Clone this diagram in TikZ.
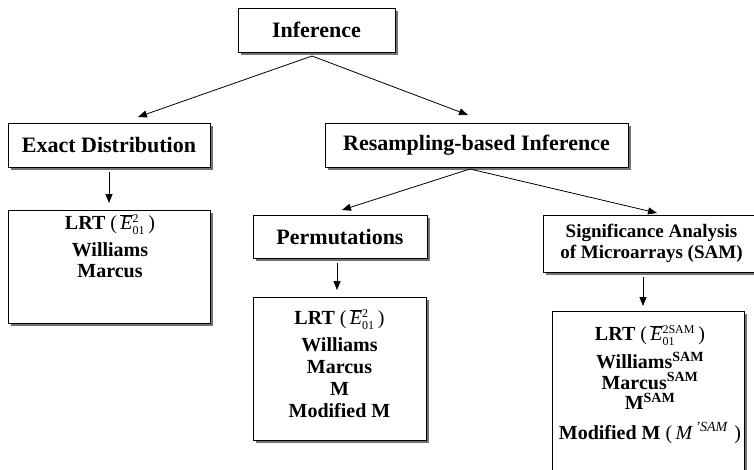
\documentclass[tikz,border=0pt]{standalone}
\usepackage{fontspec}
\setmainfont{Liberation Serif}
\usetikzlibrary{arrows.meta}
\tikzset{
  box/.style={draw=black, line width=0.8pt, fill=white, inner sep=0pt, align=center,
    preaction={fill=black!55, transform canvas={shift={(3pt,-3pt)}}}},
  head/.style={box, font=\fontsize{22}{25}\selectfont\bfseries},
  sam/.style={box, font=\fontsize{19}{20.5}\selectfont\bfseries},
  listbox/.style={box},
  txt/.style={inner sep=0pt, align=center, anchor=north, font=\fontsize{20}{21.5}\selectfont\bfseries},
  arr/.style={-{Triangle[length=9pt,width=7pt]}, line width=0.8pt}
}
\newcommand{\Ebar}[1]{\textnormal{(\,$\overline{\mbox{\normalfont\itshape E}}{}^{\mbox{\normalfont\fontsize{12}{12}\selectfont #1}}_{\mbox{\normalfont\fontsize{12}{12}\selectfont 01}}$\,)}}
\begin{document}
\begin{tikzpicture}[x=1pt,y=-1pt]
\clip (0,0) rectangle (754,469);
\fill[white] (0,0) rectangle (754,469);
% boxes
\node[head, minimum width=157pt, minimum height=44pt] (inf) at (316.5,30) {Inference};
\node[head, minimum width=202pt, minimum height=44pt] (exact) at (109,145) {Exact Distribution};
\node[head, minimum width=303pt, minimum height=44pt] (res) at (476.5,145) {Resampling-based Inference};
\node[listbox, minimum width=202pt, minimum height=113pt, anchor=north] (el) at (109,210) {};
\node[txt] (elt) at (110,214) {LRT \Ebar{2}\\[5pt] Williams\\ Marcus};
\node[head, minimum width=174pt, minimum height=43pt] (perm) at (340,236.5) {Permutations};
\node[listbox, minimum width=173pt, minimum height=143pt, anchor=north] (pl) at (339.5,297) {};
\node[txt, font=\fontsize{20}{22}\selectfont\bfseries] (plt) at (339.5,309) {LRT \Ebar{2}\\[5pt] Williams\\ Marcus\\ M\\ Modified M};
\node[sam, minimum width=217pt, minimum height=57pt] (sam) at (651.5,243.5) {Significance Analysis\\ of Microarrays (SAM)};
\node[listbox, minimum width=192pt, minimum height=180pt, anchor=north] (sl) at (648,311) {};
\node[txt] (slt) at (650,325) {LRT \Ebar{2SAM}\\[5pt] Williams\textsuperscript{SAM}\\[-1pt] Marcus\textsuperscript{SAM}\\[-1pt] M\textsuperscript{SAM}\\[8pt] Modified M \textnormal{(\,\textit{M}\textsuperscript{\itshape\,'SAM}\,\,)}};
% connectors
\coordinate (infb) at (312,56);
\coordinate (resb) at (470,169);
\coordinate (t1) at (138,117);
\coordinate (t2) at (468,115);
\coordinate (t3) at (342,210);
\coordinate (t4) at (657,213);
\coordinate (e0) at (109,172);
\coordinate (e1) at (109,203);
\coordinate (p0) at (337,263);
\coordinate (p1) at (337,290);
\coordinate (s0) at (643,277);
\coordinate (s1) at (643,306);
\draw[arr] (infb) -- (t1);
\draw[arr] (infb) -- (t2);
\draw[arr] (resb) -- (t3);
\draw[arr] (resb) -- (t4);
\draw[arr] (e0) -- (e1);
\draw[arr] (p0) -- (p1);
\draw[arr] (s0) -- (s1);
\end{tikzpicture}
\end{document}
